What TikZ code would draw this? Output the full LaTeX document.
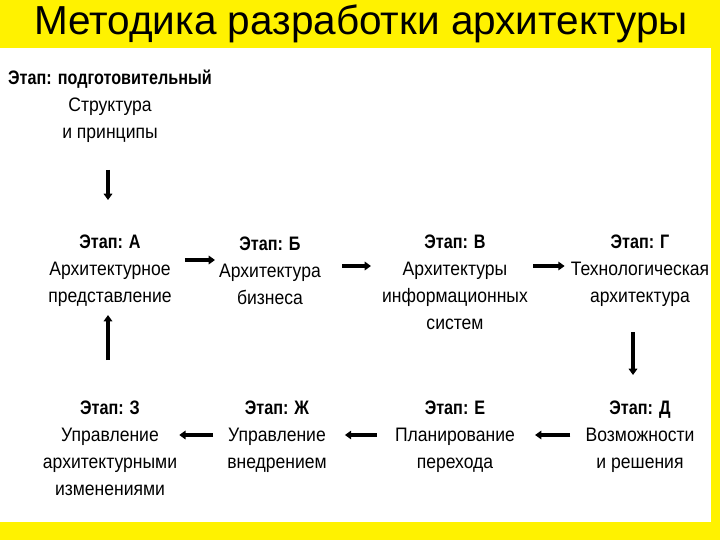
\documentclass[tikz,border=0pt]{standalone}
\usepackage{fontspec}
\setmainfont{Liberation Sans}
\newfontfamily\narrowsans[FakeStretch=0.9]{Liberation Sans}
\newfontfamily\narrowbold[FakeStretch=0.83]{Liberation Sans Bold}
\usetikzlibrary{arrows.meta}
\newcommand{\stagehead}[1]{{\narrowbold #1}}
\tikzset{
	stage/.style={align=center, inner sep=0pt, anchor=north, font=\narrowsans\fontsize{19.5}{27}\selectfont},
	flow/.style={line width=1.6mm, -{Triangle[length=2.2mm, width=3mm]}}
}

\begin{document}
\begin{tikzpicture}[x=1pt, y=-1pt]
			%%%%% START %%%%%
			
			\useasboundingbox (0, 0) rectangle (720, 540);
			\fill[color=yellow] (0, 0) rectangle (720, 540);
			\fill[color=white] (0, 48) rectangle (711, 522);
			
			\node[font=\fontsize{40.5}{44}\selectfont] (title) at (361, 24) {Методика разработки архитектуры};
			
			\node[stage] (prep) at (110, 70) {\stagehead{Этап: подготовительный}\\Структура\\и принципы};
			
			\node[stage] (a) at (110, 235) {\stagehead{Этап: А}\\Архитектурное\\представление};
			\node[stage] (b) at (270, 237) {\stagehead{Этап: Б}\\Архитектура\\бизнеса};
			\node[stage] (v) at (455, 235) {\stagehead{Этап: В}\\Архитектуры\\информационных\\систем};
			\node[stage] (g) at (640, 235) {\stagehead{Этап: Г}\\Технологическая\\архитектура};
			
			\node[stage] (d) at (640, 401) {\stagehead{Этап: Д}\\Возможности\\и решения};
			\node[stage] (e) at (455, 401) {\stagehead{Этап: Е}\\Планирование\\перехода};
			\node[stage] (zh) at (277, 401) {\stagehead{Этап: Ж}\\Управление\\внедрением};
			\node[stage] (z) at (110, 401) {\stagehead{Этап: З}\\Управление\\архитектурными\\изменениями};
			
			\draw[flow, shorten <=27pt, shorten >=35pt] ([xshift=-2pt]prep.south) -- ([xshift=-2pt]prep.south |- a.north);
			
			\draw[flow, shorten <=13pt, shorten >=4pt] ([yshift=-25pt]a.north east) -- ([yshift=-25pt]a.north east -| b.west);
			\draw[flow, shorten <=21pt, shorten >=11pt] ([yshift=-29pt]b.north east) -- ([yshift=-29pt]b.north east -| v.west);
			\draw[flow, shorten <=5pt, shorten >=6pt] ([yshift=-31pt]v.north east) -- ([yshift=-31pt]v.north east -| g.west);
			
			\draw[flow, shorten <=25pt, shorten >=26pt] ([xshift=-7pt]g.south) -- ([xshift=-7pt]g.south |- d.north);
			
			\draw[flow, shorten <=15pt, shorten >=20pt] ([yshift=-34pt]d.north west) -- ([yshift=-34pt]d.north west -| e.east);
			\draw[flow, shorten <=18pt, shorten >=18pt] ([yshift=-34pt]e.north west) -- ([yshift=-34pt]e.north west -| zh.east);
			\draw[flow, shorten <=14pt, shorten >=2pt] ([yshift=-34pt]zh.north west) -- ([yshift=-34pt]zh.north west -| z.east);
			
			\draw[flow, shorten <=41pt, shorten >=8pt] ([xshift=-2pt]z.north) -- ([xshift=-2pt]z.north |- a.south);
			
			%%%%% END %%%%%
		\end{tikzpicture}
\end{document}
